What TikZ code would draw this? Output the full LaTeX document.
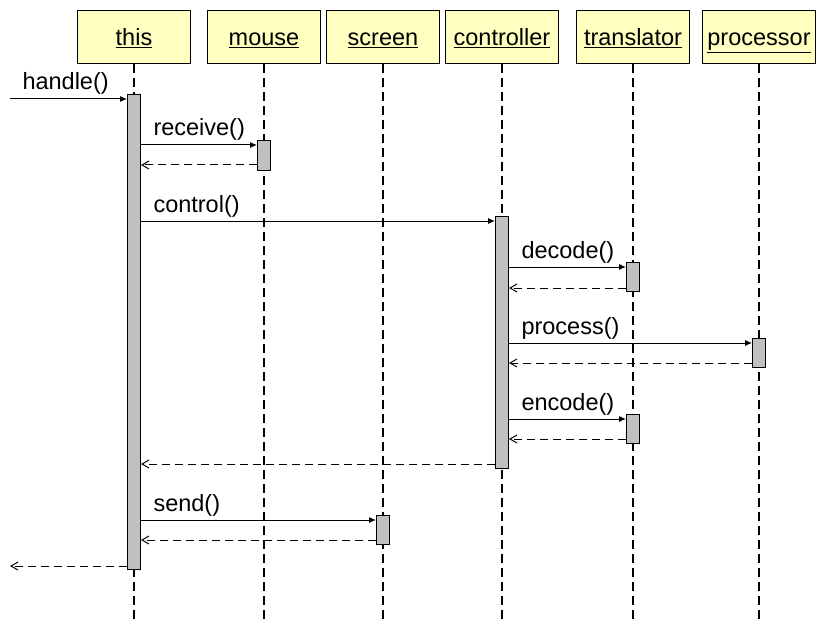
\documentclass[tikz,border=0pt]{standalone}
\usepackage{fontspec}
\setmainfont{Liberation Sans}
\usetikzlibrary{arrows.meta}
\definecolor{notepaper}{RGB}{255,255,192}
\definecolor{barfill}{RGB}{192,192,192}

\begin{document}
\begin{tikzpicture}[x=1pt,y=-1pt]
	% Styles for the objects, lifelines and messages
	\tikzset{
		object/.style={draw, line width=1pt, fill=notepaper, minimum width=113pt, minimum height=53pt, inner sep=0pt, text height=20pt, text depth=2pt, font=\fontsize{23.5}{28}\selectfont},
		lifeline/.style={line width=2pt, dash pattern=on 9pt off 5pt},
		activation/.style={draw, line width=1pt, fill=barfill, minimum width=13pt, inner sep=0pt, anchor=north},
		call/.style={-{Latex[length=7pt,width=6pt]}, line width=1pt},
		reply/.style={-{Straight Barb[length=7pt,width=8pt]}, line width=1pt, dash pattern=on 8pt off 5pt},
		msg/.style={pos=0, anchor=base west, xshift=12pt, yshift=9pt, inner sep=0pt, font=\fontsize{23.5}{28}\selectfont}
	}
	
	% Fix the size of the page
	\useasboundingbox (0,0) rectangle (826,631);
	
	% Draw the objects
	\node[object] (this) at (134,37) {\underline{this}};
	\node[object] (mouse) at (264,37) {\underline{mouse}};
	\node[object] (screen) at (383,37) {\underline{screen}};
	\node[object] (controller) at (502,37) {\underline{controller}};
	\node[object] (translator) at (633,37) {\underline{translator}};
	\node[object] (processor) at (759,37) {\underline{processor}};
	
	% Lifelines
	\foreach \obj in {this,mouse,screen,controller,translator,processor}
		\draw[lifeline] (\obj.south) -- (\obj.south |- 0,620);
	
	% Activation bars
	\node[activation, minimum height=475pt] (thisbar) at (134,94) {};
	\node[activation, minimum height=30pt] (mousebar) at (264,140) {};
	\node[activation, minimum height=252pt] (controllerbar) at (502,216) {};
	\node[activation, minimum height=29pt] (decodebar) at (633,262) {};
	\node[activation, minimum height=29pt] (processbar) at (759,338) {};
	\node[activation, minimum height=29pt] (encodebar) at (633,414) {};
	\node[activation, minimum height=29pt] (sendbar) at (383,515) {};
	
	% Incoming and outgoing messages
	\coordinate (caller) at (10,99);
	\coordinate (callerback) at (10,566);
	\draw[call] (caller) -- (thisbar.west |- caller) node[msg] {handle()};
	\draw[reply] (thisbar.west |- callerback) -- (callerback);
	
	% Messages from this
	\draw[call] (thisbar.east |- 0,145) -- (mousebar.west |- 0,145) node[msg] {receive()};
	\draw[reply] (mousebar.west |- 0,165) -- (thisbar.east |- 0,165);
	\draw[call] (thisbar.east |- 0,221) -- (controllerbar.west |- 0,221) node[msg] {control()};
	
	% Messages from the controller
	\draw[call] (controllerbar.east |- 0,267) -- (decodebar.west |- 0,267) node[msg] {decode()};
	\draw[reply] (decodebar.west |- 0,288) -- (controllerbar.east |- 0,288);
	\draw[call] (controllerbar.east |- 0,343) -- (processbar.west |- 0,343) node[msg] {process()};
	\draw[reply] (processbar.west |- 0,363) -- (controllerbar.east |- 0,363);
	\draw[call] (controllerbar.east |- 0,419) -- (encodebar.west |- 0,419) node[msg] {encode()};
	\draw[reply] (encodebar.west |- 0,439) -- (controllerbar.east |- 0,439);
	\draw[reply] (controllerbar.west |- 0,464) -- (thisbar.east |- 0,464);
	
	% Sending to the screen
	\draw[call] (thisbar.east |- 0,520) -- (sendbar.west |- 0,520) node[msg] {send()};
	\draw[reply] (sendbar.west |- 0,540) -- (thisbar.east |- 0,540);
\end{tikzpicture}
\end{document}
